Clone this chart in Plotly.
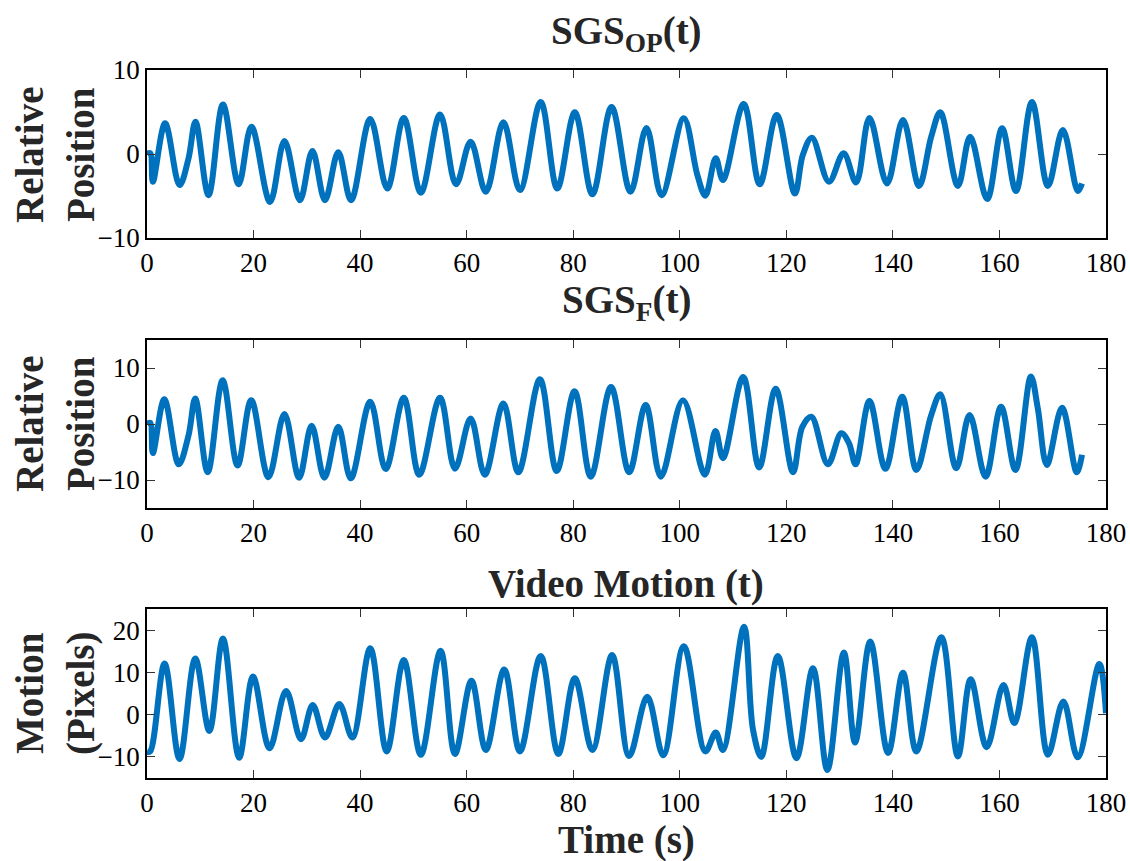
import plotly.graph_objects as go

# Panel 1: SGS_OP(t)  (time s, relative position)
t1 = [0.0, 0.6, 1.1, 3.4, 6.1, 7.8, 9.1, 11.55, 14.25, 17.2, 19.6, 23.1, 25.8, 28.7, 31.05, 33.4,
      35.9, 38.3, 41.9, 45.1, 48.2, 51.4, 55.0, 58.0, 60.75, 63.6, 66.9, 70.0, 73.9, 77.0, 80.3,
      83.6, 87.2, 90.75, 93.75, 96.6, 100.75, 103.3, 104.8, 106.75, 108.1, 112.0, 115.0, 118.2,
      121.6, 123.1, 124.8, 128.0, 130.75, 133.1, 135.6, 138.9, 141.9, 144.9, 147.2, 148.9, 152.2,
      154.5, 157.7, 160.5, 163.1, 166.1, 169.1, 171.9, 174.7, 175.5]
v1 = [0.0, 0.1, -3.3, 3.65, -3.7, -0.5, 3.85, -4.9, 5.9, -3.6, 3.25, -5.7, 1.55, -5.5, 0.36, -5.5,
      0.2, -5.5, 4.17, -4.1, 4.3, -4.6, 4.7, -3.6, 1.46, -4.5, 3.77, -4.3, 6.2, -4.1, 4.96,
      -4.8, 5.6, -4.5, 3.1, -4.9, 4.25, -2.5, -4.96, -0.5, -3.1, 5.95, -3.6, 4.64,
      -4.7, -0.1, 1.94, -3.3, 0.08, -3.4, 4.3, -3.5, 4.05, -3.8, 2.06, 4.96, -3.8,
      2.06, -5.36, 3.06, -4.4, 6.2, -3.8, 2.86, -4.4, -3.5]

# Panel 2: SGS_F(t)
t2 = [0.0, 0.6, 1.1, 3.25, 5.95, 7.8, 9.06, 11.4, 14.2, 17.0, 19.56, 22.8, 25.8, 28.55, 30.9, 33.3,
      35.9, 38.25, 41.9, 44.8, 48.2, 51.1, 55.0, 57.8, 60.75, 63.4, 66.9, 69.7, 73.75, 76.9, 80.25,
      83.3, 87.1, 90.5, 93.6, 96.45, 100.6, 104.7, 106.7, 108.1, 111.9, 114.9, 118.0, 121.25,
      123.0, 124.7, 127.8, 130.3, 131.75, 133.0, 135.6, 138.6, 141.75, 144.4, 147.2, 148.9, 151.9,
      154.4, 157.4, 160.3, 163.0, 165.9, 167.2, 168.9, 171.75, 174.5, 175.5]
v2 = [0.0, 0.2, -5.2, 4.44, -7.2, -2.0, 4.56, -8.6, 7.8, -7.4, 4.26, -9.5, 1.78, -9.6, -0.3, -9.6,
      -0.5, -9.7, 3.96, -8.05, 4.67, -9.06, 4.67, -8.0, 1.0, -9.06, 3.67, -8.6, 8.0, -8.4, 5.86,
      -9.4, 6.6, -8.6, 3.4, -9.4, 4.26, -9.06, -1.24, -6.1, 8.4, -7.76, 6.3, -8.6,
      -0.5, 1.3, -7.2, -1.66, -3.4, -7.2, 4.1, -8.0, 4.86, -8.2, 1.6, 5.3, -7.9,
      1.6, -9.4, 3.08, -8.2, 8.5, 2.8, -7.3, 2.9, -8.6, -5.5]

# Panel 3: Video Motion (t)  (pixels)
t3 = [0.0, 0.6, 3.3, 6.1, 9.06, 11.7, 14.25, 17.3, 19.9, 23.0, 26.1, 28.9, 31.1, 33.4, 36.1, 38.55,
      41.9, 45.0, 48.2, 51.4, 55.1, 57.8, 60.9, 63.6, 67.05, 70.0, 73.9, 77.2, 80.3, 83.6, 87.3,
      90.5, 93.9, 96.9, 100.75, 104.8, 106.75, 108.1, 112.05, 113.75, 115.3, 118.4, 121.9, 125.0,
      127.7, 130.8, 132.9, 135.75, 139.1, 141.9, 144.4, 149.1, 152.2, 154.6, 157.6, 160.75, 162.8,
      166.1, 169.1, 172.0, 174.7, 178.75, 180.0]
v3 = [-8.8, -8.7, 12.1, -10.5, 13.3, -3.85, 18.0, -10.2, 9.0, -7.95, 5.6, -5.8, 2.3, -5.4, 2.5, -5.4,
      15.7, -8.7, 12.9, -9.5, 15.1, -9.3, 8.0, -8.35, 10.7, -8.7, 13.9, -9.3, 8.6, -8.35, 14.1,
      -9.8, 4.26, -9.6, 16.2, -8.7, -4.26, -8.35, 20.8, -3.6, -10.0, 13.9, -10.3, 11.0,
      -13.1, 14.7, -6.6, 17.3, -9.1, 9.9, -8.7, 18.3, -9.9, 8.4, -7.7, 7.0, -2.0,
      18.3, -9.5, 3.1, -10.1, 12.0, 0.3]

x_ticks = [0, 20, 40, 60, 80, 100, 120, 140, 160, 180]
y_ticks_12 = [-10, 0, 10]
y_ticks_3 = [-10, 0, 10, 20]

W, H = 1130, 861
LINE = "#0072BD"
SERIF = "Liberation Serif"

fig = go.Figure()
for i, (t, v) in enumerate([(t1, v1), (t2, v2), (t3, v3)], start=1):
    fig.add_trace(go.Scatter(x=t, y=v, mode="lines", xaxis=f"x{i}" if i > 1 else "x",
                             yaxis=f"y{i}" if i > 1 else "y",
                             line=dict(color=LINE, width=6, shape="spline", smoothing=1.0),
                             showlegend=False, hoverinfo="skip"))

x0, x1 = 147 / W, 1106 / W
doms = [(70, 238), (340, 508), (609, 778)]
ranges = [(-10, 10), (-15, 15), (-15, 25)]
yt = [y_ticks_12, y_ticks_12, y_ticks_3]

axis_common = dict(showline=True, linecolor="black", linewidth=1.5, mirror="ticks",
                   ticks="inside", ticklen=8, tickwidth=1.2, tickcolor="#333",
                   showgrid=False, zeroline=False,
                   tickfont=dict(family=SERIF, size=27, color="black"))
layout = dict(width=W, height=H, paper_bgcolor="white", plot_bgcolor="white",
              margin=dict(l=0, r=0, t=0, b=0), showlegend=False)
for i in range(3):
    top, bot = doms[i]
    sx = "" if i == 0 else str(i + 1)
    layout[f"xaxis{sx}"] = dict(domain=[x0, x1], range=[0, 180], tickvals=x_ticks,
                                anchor=f"y{sx}", automargin=False, **axis_common)
    layout[f"yaxis{sx}"] = dict(domain=[1 - bot / H, 1 - top / H], range=list(ranges[i]),
                                tickvals=yt[i], anchor=f"x{sx}", automargin=False, **axis_common)
fig.update_layout(**layout)

lab_font = dict(family=SERIF, size=39, color="#262626")
cx = 626 / W
ann = [
    dict(text="<b>SGS<sub>OP</sub>(t)</b>", x=cx, y=1 - 33 / H),
    dict(text="<b>SGS<sub>F</sub>(t)</b>", x=cx, y=1 - 302 / H),
    dict(text="<b>Video Motion (t)</b>", x=cx, y=1 - 584 / H),
    dict(text="<b>Time (s)</b>", x=cx, y=1 - 840 / H),
    dict(text="<b>Relative<br>Position</b>", x=55 / W, y=1 - 155 / H, textangle=-90),
    dict(text="<b>Relative<br>Position</b>", x=55 / W, y=1 - 424 / H, textangle=-90),
    dict(text="<b>Motion<br>(Pixels)</b>", x=55 / W, y=1 - 694 / H, textangle=-90),
]
for a in ann:
    fig.add_annotation(xref="paper", yref="paper", showarrow=False, xanchor="center",
                       yanchor="middle", font=lab_font, **a)

fig.write_html("out.html")
